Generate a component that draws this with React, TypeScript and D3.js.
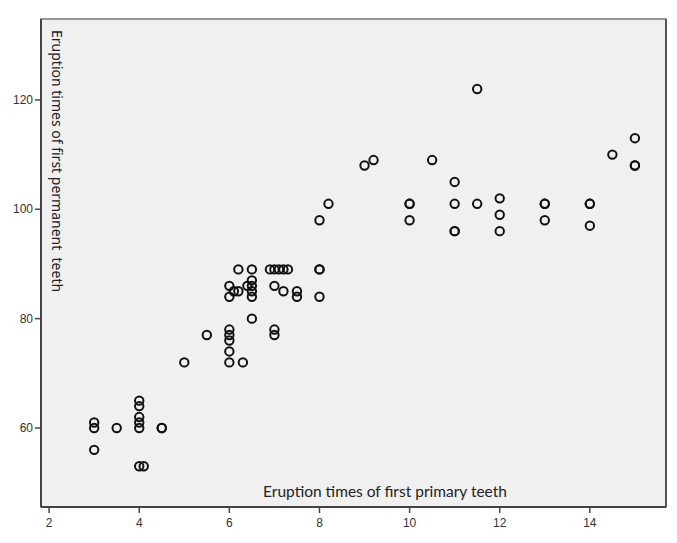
import React from "react";
import * as d3 from "d3";

// eruption times (months)
const primaryTeeth = [
  3, 3, 3, 3.5, 4, 4, 4, 4, 4, 4, 4.1, 4.5, 4.5,
  5, 5.5, 6, 6, 6, 6, 6, 6, 6, 6.1, 6.2, 6.2, 6.3,
  6.4, 6.5, 6.5, 6.5, 6.5, 6.5, 6.5,
  6.9, 7, 7.1, 7.2, 7.3, 7, 7.2, 7.5, 7.5, 7, 7,
  8, 8, 8, 8, 8.2, 9, 9.2, 10, 10, 10, 10.5,
  11, 11, 11, 11, 11.5, 11.5, 12, 12, 12,
  13, 13, 13, 14, 14, 14, 14.5, 15, 15, 15,
];
const permanentTeeth = [
  61, 60, 56, 60, 65, 64, 62, 61, 60, 53, 53, 60, 60,
  72, 77, 78, 77, 76, 74, 72, 86, 84, 85, 85, 89, 72,
  86, 89, 87, 86, 85, 84, 80,
  89, 89, 89, 89, 89, 86, 85, 85, 84, 78, 77,
  89, 89, 84, 98, 101, 108, 109, 101, 101, 98, 109,
  105, 101, 96, 96, 122, 101, 102, 99, 96,
  101, 101, 98, 101, 101, 97, 110, 113, 108, 108,
];
const xTicks = [2, 4, 6, 8, 10, 12, 14];
const yTicks = [60, 80, 100, 120];

const W = 677;
const H = 543;
const m = { top: 19, right: 11, bottom: 36, left: 41 };

export default function App() {
  const x = d3.scaleLinear().domain([1.82, 15.69]).range([m.left, W - m.right]);
  const y = d3.scaleLinear().domain([45.55, 134.8]).range([H - m.bottom, m.top]);

  const points = d3.zip(primaryTeeth, permanentTeeth);
  const x0 = m.left;
  const y0 = H - m.bottom;
  const tickFont = "'Liberation Sans', Arial, sans-serif";

  return (
    <svg
      width={W}
      height={H}
      style={{ position: "absolute", left: 0, top: 0, background: "#fff" }}
    >
      <rect
        x={x0}
        y={m.top}
        width={W - m.right - m.left}
        height={y0 - m.top}
        fill="#f0f0f0"
        stroke="#777"
        strokeWidth={1.5}
      />
      <line x1={W - m.right} x2={W - m.right} y1={m.top} y2={y0} stroke="#555" strokeWidth={2} />
      <line x1={x0} x2={x0} y1={m.top} y2={y0} stroke="#444" strokeWidth={2} />
      <line x1={x0} x2={W - m.right} y1={y0} y2={y0} stroke="#444" strokeWidth={2} />

      {yTicks.map((t) => (
        <g key={"y" + t} transform={`translate(0,${y(t)})`}>
          <line x1={x0 - 6} x2={x0} stroke="#444" strokeWidth={1.5} />
          <text
            x={x0 - 8}
            dy="0.35em"
            textAnchor="end"
            fontFamily={tickFont}
            fontSize={12}
            fill="#333"
          >
            {t}
          </text>
        </g>
      ))}

      {xTicks.map((t) => (
        <g key={"x" + t} transform={`translate(${x(t)},0)`}>
          <line y1={y0} y2={y0 + 6} stroke="#444" strokeWidth={1.5} />
          <text
            y={y0 + 20}
            textAnchor="middle"
            fontFamily={tickFont}
            fontSize={12}
            fill="#333"
          >
            {t}
          </text>
        </g>
      ))}

      <text
        x={385}
        y={y0 - 10}
        textAnchor="middle"
        fontFamily="Lato, 'Open Sans', sans-serif"
        fontSize={15.5}
        fill="#222"
      >
        Eruption times of first primary teeth
      </text>
      <text
        transform={`translate(57,30) rotate(90)`}
        dy="0.35em"
        fontFamily="'Noto Sans', 'DejaVu Sans', sans-serif"
        fontSize={14}
        fill="#222"
        style={{ whiteSpace: "pre" }}
      >
        {"Eruption times of first permanent  teeth"}
      </text>

      {points.map(([px, py], i) => (
        <circle
          key={i}
          cx={x(px)}
          cy={y(py)}
          r={4.2}
          fill="none"
          stroke="#111"
          strokeWidth={2}
        />
      ))}
    </svg>
  );
}
